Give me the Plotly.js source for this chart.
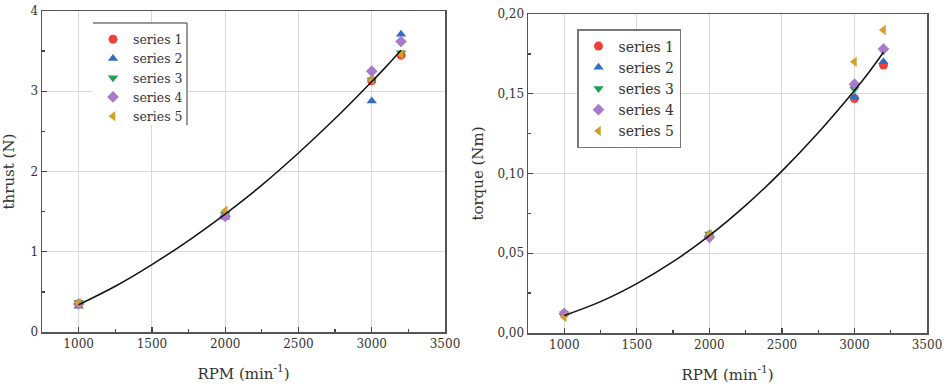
<!DOCTYPE html>
<html><head><meta charset="utf-8">
<script src="https://cdn.plot.ly/plotly-3.0.1.min.js"></script>
<style>html,body{margin:0;padding:0;background:#fff}#chart{width:946px;height:387px}</style>
</head><body><div id="chart"></div>
<script>
const rpm = [1000, 2000, 3000, 3200];
const seriesNames = ["series 1", "series 2", "series 3", "series 4", "series 5"];
// thrust (N)
const thrust1 = [0.35, 1.45, 3.13, 3.45];
const thrust2 = [0.32, 1.43, 2.88, 3.71];
const thrust3 = [0.37, 1.47, 3.14, 3.48];
const thrust4 = [0.35, 1.44, 3.25, 3.62];
const thrust5 = [0.36, 1.51, 3.14, 3.46];
// torque (Nm)
const torque1 = [0.012, 0.061, 0.147, 0.168];
const torque2 = [0.013, 0.062, 0.148, 0.170];
const torque3 = [0.012, 0.062, 0.153, 0.177];
const torque4 = [0.012, 0.060, 0.156, 0.178];
const torque5 = [0.010, 0.062, 0.170, 0.190];
// fitted curves
const fitRpm = [1000, 1250, 1500, 1750, 2000, 2250, 2500, 2750, 3000, 3100, 3200];
const thrustFit = [0.34, 0.57, 0.84, 1.14, 1.47, 1.83, 2.23, 2.66, 3.12, 3.31, 3.51];
const torqueFit = [0.011, 0.0197, 0.031, 0.0447, 0.061, 0.080, 0.1015, 0.1255, 0.152, 0.1635, 0.176];

const colors = ["#ee3f3a", "#2f6dc0", "#1f9e5a", "#a77bc9", "#d49e2a"];
const symbols = ["circle", "triangle-up", "triangle-down", "diamond", "triangle-left"];
const thrustSets = [thrust1, thrust2, thrust3, thrust4, thrust5];
const torqueSets = [torque1, torque2, torque3, torque4, torque5];

const W = 946, H = 387;
const F = "DejaVu Serif";
const data = [];
thrustSets.forEach((ys, i) => data.push({
  x: rpm, y: ys, type: "scatter", mode: "markers", name: seriesNames[i],
  marker: {color: colors[i], symbol: symbols[i], size: 9}, xaxis: "x", yaxis: "y", legend: "legend"
}));
data.push({x: fitRpm, y: thrustFit, type: "scatter", mode: "lines", line: {color: "#111", width: 1.5, shape: "spline"},
  showlegend: false, xaxis: "x", yaxis: "y"});
torqueSets.forEach((ys, i) => data.push({
  x: rpm, y: ys, type: "scatter", mode: "markers", name: seriesNames[i],
  marker: {color: colors[i], symbol: symbols[i], size: 9}, xaxis: "x2", yaxis: "y2", legend: "legend2"
}));
data.push({x: fitRpm, y: torqueFit, type: "scatter", mode: "lines", line: {color: "#111", width: 1.5, shape: "spline"},
  showlegend: false, xaxis: "x2", yaxis: "y2"});

const axCommon = {
  showline: true, linecolor: "#555", linewidth: 1.5, mirror: true,
  ticks: "inside", ticklen: 5, tickwidth: 1.3, tickcolor: "#444",
  showgrid: true, gridcolor: "#d9d9d9", gridwidth: 1, zeroline: false,
  tickfont: {family: F, size: 12, color: "#333"},
};
const xAx = (dom, anchor) => Object.assign({}, axCommon, {
  domain: dom, anchor: anchor, range: [750, 3500], dtick: 500, tick0: 0,
  minor: {dtick: 250, ticks: "inside", ticklen: 3, tickcolor: "#444", showgrid: false},
  title: {text: "RPM (min<sup>-1</sup>)", font: {family: F, size: 15, color: "#333"}, standoff: 18}
});
const layout = {
  width: W, height: H, margin: {l: 0, r: 0, t: 0, b: 0},
  font: {family: F, color: "#333"},
  paper_bgcolor: "#fff", plot_bgcolor: "#fff",
  xaxis: xAx([42 / W, 445 / W], "y"),
  yaxis: Object.assign({}, axCommon, {
    domain: [1 - 332 / H, 1 - 11 / H], anchor: "x", range: [0, 4], dtick: 1,
    minor: {dtick: 0.5, ticks: "inside", ticklen: 3, tickcolor: "#444", showgrid: false},
    title: {text: "thrust (N)", font: {family: F, size: 15, color: "#333"}, standoff: 12}
  }),
  xaxis2: xAx([528 / W, 927 / W], "y2"),
  yaxis2: Object.assign({}, axCommon, {
    domain: [1 - 333 / H, 1 - 14 / H], anchor: "x2", range: [0, 0.2], dtick: 0.05,
    tickformat: ".2f",
    minor: {dtick: 0.025, ticks: "inside", ticklen: 3, tickcolor: "#444", showgrid: false},
    title: {text: "torque (Nm)", font: {family: F, size: 15, color: "#333"}, standoff: 10}
  }),
  separators: ",.",
  legend: {x: 93 / W, y: 1 - 24.5 / H, xanchor: "left", yanchor: "top", bgcolor: "rgba(0,0,0,0)",
    borderwidth: 0, font: {family: F, size: 12.5, color: "#333"}, tracegroupgap: 0},
  legend2: {x: 577 / W, y: 1 - 29 / H, xanchor: "left", yanchor: "top", bgcolor: "#fff",
    bordercolor: "#777", borderwidth: 1.5, font: {family: F, size: 14, color: "#333"}, tracegroupgap: 0},
  shapes: [
    {type: "rect", xref: "paper", yref: "paper", layer: "above", x0: 93 / W, x1: 187 / W, y0: 1 - 23 / H, y1: 1 - 125 / H,
      fillcolor: "#fff", line: {width: 0}},
    {type: "line", xref: "paper", yref: "paper", layer: "above", x0: 93 / W, x1: 187 / W, y0: 1 - 23 / H, y1: 1 - 23 / H, line: {color: "#777", width: 1.5}},
    {type: "line", xref: "paper", yref: "paper", layer: "above", x0: 187 / W, x1: 187 / W, y0: 1 - 23 / H, y1: 1 - 125 / H, line: {color: "#777", width: 1.5}}
  ],
  showlegend: true
};
Plotly.newPlot("chart", data, layout, {displayModeBar: false, staticPlot: true});
</script></body></html>
